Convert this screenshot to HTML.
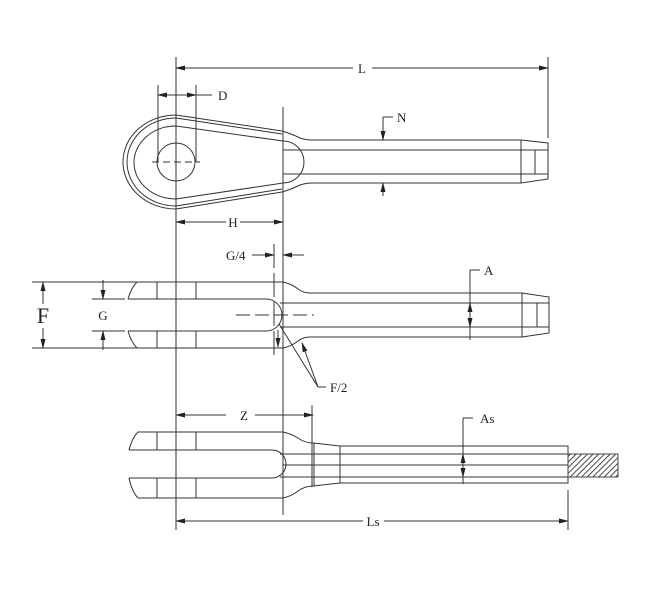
<!DOCTYPE html>
<html><head><meta charset="utf-8"><style>
html,body{margin:0;padding:0;background:#fff}
svg{display:block}
text{font-family:"Liberation Serif",serif;fill:#222}
</style></head><body>
<svg width="650" height="596" viewBox="0 0 650 596" xmlns="http://www.w3.org/2000/svg">
<defs>
<marker id="a" markerWidth="10" markerHeight="6" refX="9" refY="3" orient="auto" markerUnits="userSpaceOnUse"><path d="M0,0.5 L10,3 L0,5.5 Z" fill="#222"/></marker>
<pattern id="h" width="4" height="4" patternUnits="userSpaceOnUse" patternTransform="rotate(45)"><rect width="4" height="4" fill="#fff"/><line x1="0" y1="0" x2="0" y2="4" stroke="#333" stroke-width="1.8"/></pattern>
</defs>
<g stroke="#333" stroke-width="1" fill="none">
<line x1="176" y1="57" x2="176" y2="530"/>
<line x1="283" y1="107" x2="283" y2="515"/>
<!-- TOP VIEW -->
<line x1="548" y1="57" x2="548" y2="138"/>
<line x1="372" y1="68" x2="548" y2="68" marker-end="url(#a)"/>
<line x1="353" y1="68" x2="176" y2="68" marker-end="url(#a)"/>
<line x1="158" y1="85" x2="158" y2="162"/>
<line x1="196" y1="85" x2="196" y2="162"/>
<line x1="176" y1="95" x2="158" y2="95" marker-end="url(#a)"/>
<line x1="176" y1="95" x2="196" y2="95" marker-end="url(#a)"/>
<line x1="196" y1="95" x2="212" y2="95"/>
<circle cx="176" cy="162" r="19"/>
<line x1="152" y1="162" x2="200" y2="162" stroke-dasharray="7,4"/>
<path d="M176,115 A53,47 0 0 0 176,209"/>
<path d="M176,118 A49,44 0 0 0 176,206"/>
<path d="M176,126 A42,36.5 0 0 0 176,199"/>
<path d="M176,115 L282,131 Q292,134 300,138 Q306,140 312,140 L521,140 L548,143 L548,179 L521,183 L312,183 Q306,183 300,185 Q292,189 282,192 L176,209"/>
<path d="M176,118 L282,134"/>
<path d="M176,206 L282,189"/>
<path d="M176,126 L283,141 A21,21 0 0 1 283,183 L176,199"/>
<line x1="283" y1="150" x2="521" y2="150"/>
<line x1="283" y1="174" x2="521" y2="174"/>
<line x1="521" y1="140" x2="521" y2="183"/>
<line x1="535" y1="150" x2="535" y2="174"/>
<line x1="521" y1="150" x2="548" y2="150"/>
<line x1="521" y1="174" x2="548" y2="174"/>
<line x1="383" y1="117" x2="383" y2="140" marker-end="url(#a)"/>
<line x1="383" y1="117" x2="393" y2="117"/>
<line x1="383" y1="196" x2="383" y2="183" marker-end="url(#a)"/>
<line x1="226" y1="222" x2="176" y2="222" marker-end="url(#a)"/>
<line x1="240" y1="222" x2="283" y2="222" marker-end="url(#a)"/>
<!-- MIDDLE VIEW -->
<line x1="32" y1="282" x2="137" y2="282"/>
<line x1="32" y1="348" x2="137" y2="348"/>
<line x1="43" y1="304" x2="43" y2="282" marker-end="url(#a)"/>
<line x1="43" y1="328" x2="43" y2="348" marker-end="url(#a)"/>
<line x1="92" y1="299" x2="125" y2="299"/>
<line x1="92" y1="331" x2="125" y2="331"/>
<line x1="103" y1="280" x2="103" y2="299" marker-end="url(#a)"/>
<line x1="103" y1="350" x2="103" y2="331" marker-end="url(#a)"/>
<path d="M128,299 Q131,288 137,282 L283,282 Q292,284 298,289 Q303,293 310,293 L522,293 L549,297 L549,333 L522,337 L310,337 Q303,337 298,341 Q292,346 283,348 L137,348 Q131,342 128,331"/>
<path d="M128,299 L266,299 A16,16 0 0 1 266,331 L128,331"/>
<line x1="157" y1="282" x2="157" y2="299"/>
<line x1="196" y1="282" x2="196" y2="299"/>
<line x1="157" y1="331" x2="157" y2="348"/>
<line x1="196" y1="331" x2="196" y2="348"/>
<line x1="280" y1="303" x2="522" y2="303"/>
<line x1="280" y1="327" x2="522" y2="327"/>
<line x1="522" y1="293" x2="522" y2="337"/>
<line x1="537" y1="303" x2="537" y2="327"/>
<line x1="522" y1="303" x2="549" y2="303"/>
<line x1="522" y1="327" x2="549" y2="327"/>
<line x1="236" y1="315" x2="314" y2="315" stroke-dasharray="14,5"/>
<line x1="274" y1="244" x2="274" y2="356" stroke-dasharray="24,5"/>
<line x1="470" y1="270" x2="480" y2="270"/>
<line x1="470" y1="270" x2="470" y2="340"/>
<line x1="470" y1="315" x2="470" y2="303" marker-end="url(#a)"/>
<line x1="470" y1="315" x2="470" y2="327" marker-end="url(#a)"/>
<line x1="252" y1="255" x2="274" y2="255" marker-end="url(#a)"/>
<line x1="304" y1="255" x2="283" y2="255" marker-end="url(#a)"/>
<line x1="318" y1="387" x2="279" y2="324"/>
<line x1="318" y1="387" x2="302" y2="343" marker-end="url(#a)"/>
<line x1="318" y1="387" x2="326" y2="387"/>
<line x1="278" y1="330" x2="278" y2="347" marker-end="url(#a)"/>
<!-- BOTTOM VIEW -->
<line x1="312" y1="405" x2="312" y2="487"/>
<line x1="314" y1="443" x2="314" y2="486"/>
<line x1="226" y1="415" x2="176" y2="415" marker-end="url(#a)"/>
<line x1="255" y1="415" x2="313" y2="415" marker-end="url(#a)"/>
<path d="M129,450 Q132,438 138,432 L283,432 Q292,434 298,438 Q305,443 313,443 L340,446 L568,446 L568,483 L340,483 L313,486 Q305,486 298,491 Q292,496 283,498 L138,498 Q132,492 129,478"/>
<path d="M129,450 L272,450 A14,14 0 0 1 272,478 L129,478"/>
<line x1="157" y1="432" x2="157" y2="450"/>
<line x1="196" y1="432" x2="196" y2="450"/>
<line x1="157" y1="478" x2="157" y2="498"/>
<line x1="196" y1="478" x2="196" y2="498"/>
<line x1="340" y1="446" x2="340" y2="483"/>
<line x1="280" y1="454" x2="568" y2="454"/>
<line x1="283" y1="465" x2="568" y2="465"/>
<line x1="280" y1="477" x2="568" y2="477"/>
<rect x="568" y="454" width="50" height="23" fill="url(#h)" stroke="#444"/>
<line x1="463" y1="418" x2="473" y2="418"/>
<line x1="463" y1="418" x2="463" y2="484"/>
<line x1="463" y1="465" x2="463" y2="454" marker-end="url(#a)"/>
<line x1="463" y1="465" x2="463" y2="477" marker-end="url(#a)"/>
<line x1="568" y1="490" x2="568" y2="530"/>
<line x1="363" y1="521" x2="176" y2="521" marker-end="url(#a)"/>
<line x1="384" y1="521" x2="568" y2="521" marker-end="url(#a)"/>
</g>
<g font-size="13">
<text x="362" y="73" text-anchor="middle">L</text>
<text x="218" y="100">D</text>
<text x="397" y="122">N</text>
<text x="233" y="227" text-anchor="middle">H</text>
<text x="226" y="260">G/4</text>
<text x="484" y="275">A</text>
<text x="103" y="320" text-anchor="middle">G</text>
<text x="330" y="392">F/2</text>
<text x="244" y="420" text-anchor="middle">Z</text>
<text x="480" y="423">As</text>
<text x="373" y="526" text-anchor="middle">Ls</text>
</g>
<text x="43" y="323" font-size="22" text-anchor="middle">F</text>
</svg>
</body></html>
